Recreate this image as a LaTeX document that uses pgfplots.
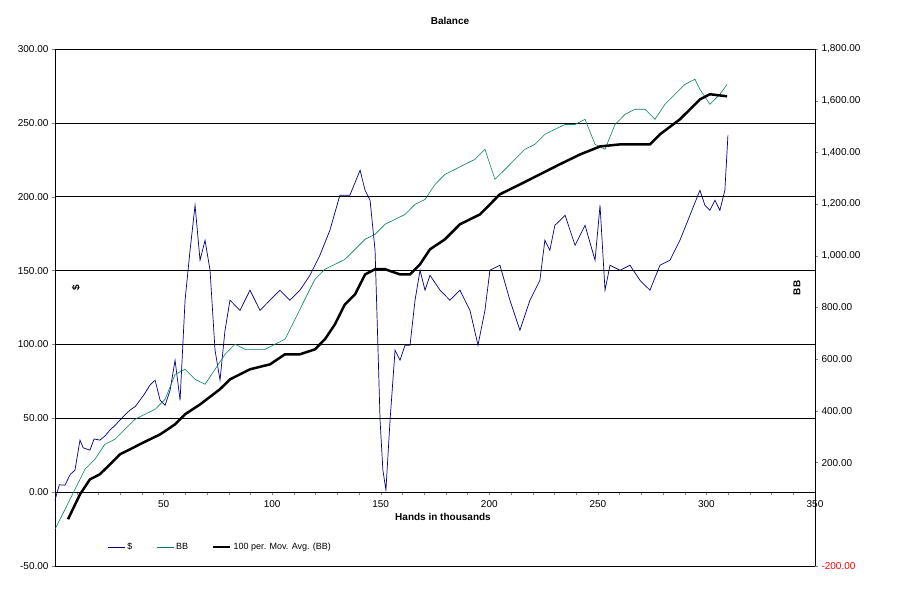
\documentclass[border=0pt]{standalone}
\usepackage{pgfplots}
\pgfplotsset{compat=1.18}
\usepackage{fontspec}
\setmainfont{Liberation Sans}
\definecolor{dblue}{RGB}{0,0,128}
\definecolor{bbgreen}{RGB}{0,128,96}
\begin{document}
\begin{tikzpicture}[x=1pt,y=1pt,font=\fontsize{10}{12}\selectfont]
\path (0,0) rectangle (899,612);
\begin{axis}[at={(55pt,46pt)},anchor=south west,scale only axis,width=760pt,height=517pt,
  xmin=0,xmax=350,ymin=-50,ymax=300,
  axis x line*=middle, axis y line*=left,
  xtick={0,50,...,350}, ytick={-50,0,...,300}, minor x tick num=4,
  x tick label style={yshift=-2pt},
  ymajorgrids, grid style={black,line width=0.6pt},
  tick align=outside, major tick length=3pt, minor tick length=3pt,
  yticklabel style={/pgf/number format/.cd,fixed,fixed zerofill,precision=2},
  /pgf/number format/assume math mode=true,
  legend columns=3, legend style={draw=none,fill=none,at={(0.065,0.037)},anchor=west,font=\fontsize{9}{10}\selectfont,/tikz/every even column/.append style={column sep=22pt}},
  legend image post style={}, 
  clip=false]
\addplot[dblue,line width=0.7pt] coordinates {(0,-5.4)(2,5)(4.6,4.7)(7,12)(9.2,14.9)(11.5,35.2)(13,30)(16.1,28.4)(18,36)(20.7,35.2)(23,38)(25.3,42.0)(27.5,45)(29.9,48.7)(32,52)(34.5,55.5)(37,58)(39.1,62.2)(41,66)(43.7,72.4)(46.1,75.8)(48.4,62.2)(50.7,58.9)(53.0,69.0)(55.3,89.3)(57.6,62.2)(59.9,129.9)(62.2,163.7)(64.5,194.2)(66.8,157.0)(69.1,170.5)(71.4,150.2)(73.7,96.1)(76.0,75.8)(78.3,109.6)(80.6,129.9)(85.2,123.1)(89.8,136.7)(94.4,123.1)(99.0,129.9)(103.6,136.7)(108.2,129.9)(112.8,136.7)(117.4,146.8)(122.0,160.4)(126.6,177.3)(131.2,201.0)(135.8,201.0)(140.5,217.9)(142.8,204.3)(145.1,197.6)(147.4,163.7)(148.7,99.5)(149.7,48.7)(151.0,14.9)(152.4,1.4)(154.3,48.7)(156.6,96.1)(158.9,89.3)(161.2,99.5)(163.5,99.5)(165.8,129.9)(168.1,150.2)(170.4,136.7)(172.7,146.8)(177.3,136.7)(181.9,129.9)(186.5,136.7)(191.1,123.1)(194.8,99.5)(198.0,123.1)(200.3,150.2)(204.9,153.6)(209.5,129.9)(214.1,109.6)(218.7,129.9)(223.3,143.4)(225.6,170.5)(227.9,163.7)(230.2,180.6)(234.9,187.4)(239.5,167.1)(244.1,180.6)(248.7,157.0)(251.0,194.2)(253.3,136.7)(255.6,153.6)(260.2,150.2)(264.8,153.6)(269.4,143.4)(274.0,136.7)(278.6,153.6)(283.2,157.0)(287.8,170.5)(292.4,187.4)(297.0,204.3)(299.3,194.2)(301.6,190.8)(303.9,197.6)(306.2,190.8)(308.5,204.3)(309.9,241.5)};
\addlegendentry{\$}
\addlegendimage{bbgreen,line width=0.7pt}\addlegendentry{BB}
\addlegendimage{black,line width=2.5pt}\addlegendentry{100 per. Mov. Avg. (BB)}
\end{axis}
\begin{axis}[at={(55pt,46pt)},anchor=south west,scale only axis,width=760pt,height=517pt,
  xmin=0,xmax=350,ymin=-200,ymax=1800,
  hide x axis, axis y line*=right,
  ytick={200,400,...,1800},
  yticklabel style={/pgf/number format/.cd,fixed,fixed zerofill,precision=2,1000 sep={,}},
  /pgf/number format/assume math mode=true,
  tick align=outside, major tick length=3pt,
  extra y ticks={-200}, extra y tick style={yticklabel style={/tikz/text=red}},
  clip=false]
\addplot[bbgreen,line width=0.6pt] coordinates {(0,-58)(4.6,19)(9.2,97)(13.8,174)(18.4,213)(23.0,271)(27.6,290)(32.2,329)(36.8,367)(41.4,387)(46.1,406)(50.7,445)(55.3,541)(59.9,561)(64.5,522)(69.1,503)(73.7,561)(78.3,619)(82.9,658)(87.5,638)(92.1,638)(96.7,638)(101.3,658)(105.9,677)(110.5,754)(115.1,832)(119.7,909)(124.3,948)(128.9,967)(133.5,986)(138.2,1025)(142.8,1064)(147.4,1083)(152.0,1122)(156.6,1141)(161.2,1160)(165.8,1199)(170.4,1218)(175.0,1276)(179.6,1315)(184.2,1334)(188.8,1354)(193.4,1373)(198.0,1412)(202.6,1296)(207.2,1334)(211.8,1373)(216.4,1412)(221.0,1431)(225.6,1470)(230.2,1489)(234.9,1508)(239.5,1508)(244.1,1528)(248.7,1431)(253.3,1412)(257.9,1508)(262.5,1547)(267.1,1567)(271.7,1567)(276.3,1528)(280.9,1586)(285.5,1625)(290.1,1663)(294.7,1683)(297.0,1644)(301.6,1586)(306.2,1625)(309.5,1663)};
\addplot[black,line width=2.5pt] coordinates {(6.0,-19)(11.5,77)(16.1,135)(20.7,155)(25.3,193)(29.9,232)(34.5,251)(39.1,271)(43.7,290)(48.4,309)(55.3,348)(59.9,387)(66.8,425)(76.0,484)(80.6,522)(89.8,561)(99.0,580)(105.9,619)(112.8,619)(119.7,638)(124.3,677)(128.9,735)(133.5,812)(138.2,851)(142.8,928)(147.4,948)(152.0,948)(158.9,928)(163.5,928)(168.1,967)(172.7,1025)(179.6,1064)(186.5,1122)(195.7,1160)(204.9,1238)(214.1,1276)(223.3,1315)(232.5,1354)(241.8,1392)(251.0,1423)(260.2,1431)(274.0,1431)(278.6,1470)(287.8,1528)(297.0,1605)(301.6,1625)(309.5,1617)};
\end{axis}
\node[font=\bfseries\fontsize{10}{12}\selectfont] at (450,591) {Balance};
\node[font=\bfseries\fontsize{10}{12}\selectfont] at (443,95) {Hands in thousands};
\node[font=\bfseries\fontsize{10}{12}\selectfont,rotate=90] at (76,324) {\$};
\node[font=\bfseries\fontsize{10}{12}\selectfont,rotate=90] at (797,324) {BB};
\end{tikzpicture}
\end{document}
